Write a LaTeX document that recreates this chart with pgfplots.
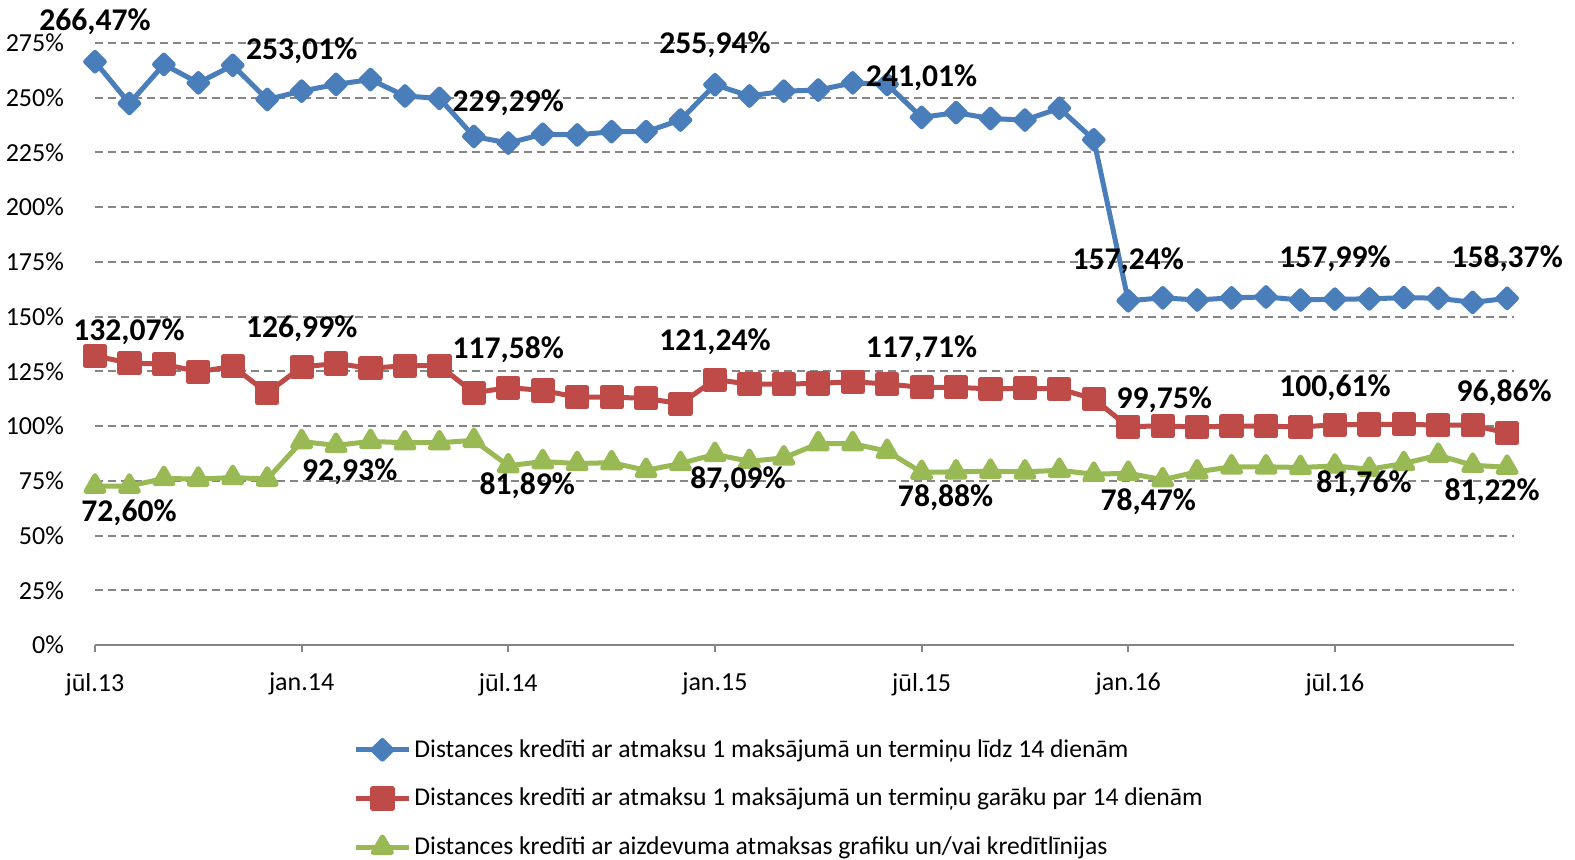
\documentclass[border=0pt]{standalone}
\usepackage{fontspec}
\setmainfont{Carlito}
\usepackage{pgfplots}
\usepackage{pgfplotstable}
\pgfplotsset{compat=1.18}
\definecolor{cblue}{HTML}{4A7EBB}
\definecolor{cred}{HTML}{BE4B48}
\definecolor{cgreen}{HTML}{98B954}
\definecolor{cgrid}{HTML}{868686}

\pgfplotstableread{
x y
0 266.47
1 247.4
2 265.2
3 256.8
4 264.8
5 249.2
6 253.01
7 256.1
8 258.3
9 250.8
10 249.7
11 232.3
12 229.29
13 233.3
14 233.0
15 234.5
16 234.5
17 239.8
18 255.94
19 250.8
20 253.0
21 253.5
22 256.8
23 256.1
24 241.01
25 243.2
26 240.5
27 239.8
28 245.2
29 230.8
30 157.24
31 158.6
32 157.6
33 158.6
34 159.0
35 157.6
36 157.99
37 158.1
38 158.7
39 158.4
40 156.5
41 158.37
}\blueT

\pgfplotstableread{
x y
0 132.07
1 128.8
2 128.3
3 124.8
4 127.3
5 115.2
6 126.99
7 128.6
8 126.4
9 127.6
10 127.6
11 115.2
12 117.58
13 116.3
14 113.2
15 113.2
16 112.7
17 110.2
18 121.24
19 119.2
20 119.2
21 119.5
22 120.3
23 119.2
24 117.71
25 117.7
26 117.0
27 117.3
28 117.0
29 112.4
30 99.75
31 100.1
32 99.6
33 100.0
34 100.0
35 99.6
36 100.61
37 100.7
38 100.9
39 100.4
40 100.4
41 96.86
}\redT

\pgfplotstableread{
x y
0 72.60
1 72.6
2 76.1
3 75.8
4 76.5
5 75.8
6 92.93
7 91.2
8 93.0
9 92.4
10 92.4
11 93.5
12 81.89
13 83.8
14 82.9
15 83.3
16 79.8
17 82.9
18 87.09
19 83.9
20 85.5
21 92.0
22 92.0
23 88.5
24 78.88
25 79.1
26 79.4
27 79.1
28 79.8
29 78.0
30 78.47
31 75.5
32 79.1
33 81.4
34 81.4
35 81.1
36 81.76
37 80.3
38 82.9
39 86.7
40 82.1
41 81.22
}\greenT

\pgfplotstableread{
x y dx dy lab
0 266.47 0 20 266,47
6 253.01 0 20 253,01
12 229.29 0 20 229,29
18 255.94 0 20 255,94
24 241.01 0 20 241,01
30 157.24 0 20 157,24
36 157.99 0 20 157,99
41 158.37 0 20 158,37
}\blueL

\pgfplotstableread{
x y dx dy lab
0 132.07 17 12 132,07
6 126.99 0 19 126,99
12 117.58 0 19 117,58
18 121.24 0 19 121,24
24 117.71 0 19.5 117,71
30 99.75 18 13.5 99,75
36 100.61 0 18.5 100,61
41 96.86 -1.5 20 96,86
}\redL

\pgfplotstableread{
x y dx dy lab
0 72.60 17 -13.5 72,60
6 92.93 24 -15 92,93
12 81.89 9.5 -10 81,89
18 87.09 11.5 -12.5 87,09
24 78.88 12 -12.5 78,88
30 78.47 10 -14 78,47
36 81.76 14.5 -9 81,76
41 81.22 -7.5 -12.5 81,22
}\greenL

\pgfplotsset{
  lab/.style={forget plot, draw=none, mark=none,
    point meta=explicit symbolic,
    visualization depends on={\thisrow{dx} \as \dx},
    visualization depends on={\thisrow{dy} \as \dy},
    nodes near coords={\pgfplotspointmeta\%},
    nodes near coords align=center,
    nodes near coords style={font=\fontsize{15.8}{19}\selectfont\bfseries, text=black,
      anchor=center, xshift=\dx pt, yshift=\dy pt, inner sep=0pt}}
}

\begin{document}
\begin{tikzpicture}
\begin{axis}[
  scale only axis, width=709.5pt, height=301pt,
  xmin=0, xmax=41.2, ymin=0, ymax=275,
  clip=false,
  axis x line*=bottom, axis y line*=left,
  y axis line style={draw=none},
  x axis line style={draw=cgrid, line width=1pt, -},
  xtick={0,6,...,36},
  xticklabels={jūl.13,jan.14,jūl.14,jan.15,jūl.15,jan.16,jūl.16},
  x tick style={draw=cgrid, line width=1pt},
  tick align=outside, major tick length=3.5pt,
  ytick={0,25,...,275}, y tick style={draw=none},
  yticklabel={\pgfmathprintnumber{\tick}\%},
  /pgf/number format/assume math mode=true,
  ymajorgrids,
  major grid style={draw=cgrid, line width=1pt, dash pattern=on 4pt off 2.5pt},
  tick label style={font=\fontsize{13}{15}\selectfont},
  yticklabel style={xshift=-8.5pt},
  xticklabel style={yshift=-7pt},
  legend cell align=left,
  legend style={at={(0,0)}, anchor=north west, xshift=126pt, yshift=-43.5pt,
    draw=none, fill=none, font=\fontsize{12.8}{15}\selectfont, row sep=11pt,
    nodes={inner sep=1.5pt}},
  legend image code/.code={\draw[mark repeat=2, mark phase=2, #1] plot coordinates {(0pt,0pt) (13.25pt,0pt) (26.5pt,0pt)};},
]
\addplot[cblue, line width=2.5pt, line join=round, mark=square*, mark size=3.3pt, mark options={rotate=45, solid, fill=cblue}] table {\blueT};
\addlegendentry{Distances kredīti ar atmaksu 1 maksājumā un termiņu līdz 14 dienām}
\addplot[cred, line width=2.5pt, line join=round, mark=square*, mark size=4.8pt, mark options={solid, fill=cred}] table {\redT};
\addlegendentry{Distances kredīti ar atmaksu 1 maksājumā un termiņu garāku par 14 dienām}
\addplot[cgreen, line width=2.5pt, line join=round, mark=triangle*, mark size=5.2pt, mark options={solid, fill=cgreen}] table {\greenT};
\addlegendentry{Distances kredīti ar aizdevuma atmaksas grafiku un/vai kredītlīnijas}
\addplot[lab] table[meta=lab] {\blueL};
\addplot[lab] table[meta=lab] {\redL};
\addplot[lab] table[meta=lab] {\greenL};
\end{axis}
\pgfresetboundingbox
\path[use as bounding box] ([xshift=-47.5pt,yshift=-107pt]current axis.south west) rectangle ++(787.5pt,429.5pt);
\end{tikzpicture}
\end{document}
